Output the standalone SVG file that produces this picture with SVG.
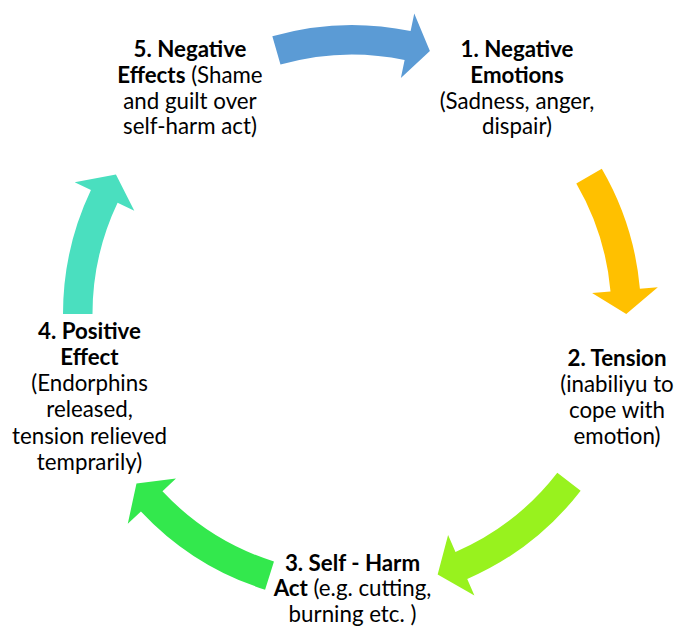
<svg xmlns="http://www.w3.org/2000/svg" width="674" height="626" viewBox="0 0 674 626">
<style>
text{font-family:Lato,"Liberation Sans",sans-serif;font-size:22.3px;fill:#000;text-anchor:middle}
.b{font-weight:bold}
</style>
<rect width="674" height="626" fill="#fff"/>
<g id="connectors">
<path id="a5to1" fill="#5B9BD5" d="M272.34,36.20 A289,289 0 0 1 410.61,31.00 L414.26,13.38 L429.89,51.04 L400.87,78.01 L404.62,59.89 A259.5,259.5 0 0 0 280.47,64.55 Z"/>
<path id="a1to2" fill="#FFC000" d="M601.79,168.63 A289,289 0 0 1 639.90,288.81 L657.83,287.24 L626.25,314 L592.08,292.99 L610.51,291.38 A259.5,259.5 0 0 0 576.29,183.47 Z"/>
<path id="a2to3" fill="#98F21E" d="M580.66,490.73 A289,289 0 0 1 467.24,579.03 L474.42,595.54 L437.66,574.53 L448.10,535.01 L455.48,551.98 A259.5,259.5 0 0 0 557.32,472.69 Z"/>
<path id="a3to4" fill="#33E84D" d="M265.09,589.63 A289,289 0 0 1 140.93,511.40 L127.78,523.70 L136.48,483.60 L175.98,478.62 L162.47,491.25 A259.5,259.5 0 0 0 273.97,561.49 Z"/>
<path id="a4to5" fill="#4ADFBF" d="M63,314 A289,289 0 0 1 90.93,190.04 L74.67,182.32 L115.94,174.40 L134.30,210.63 L117.58,202.69 A259.5,259.5 0 0 0 92.5,314 Z"/>
</g>
<g id="node1">
<text x="517" y="57"><tspan class="b">1. Negative</tspan></text>
<text x="517" y="82.5"><tspan class="b">Emotions</tspan></text>
<text x="517" y="108.5">(Sadness, anger,</text>
<text x="517" y="134">dispair)</text>
</g>
<g id="node2">
<text x="617" y="366"><tspan class="b">2. Tension</tspan></text>
<text x="617" y="392">(inabiliyu to</text>
<text x="617" y="418">cope with</text>
<text x="617" y="444">emotion)</text>
</g>
<g id="node3">
<text x="352.5" y="570.5"><tspan class="b">3. Self - Harm</tspan></text>
<text x="352.5" y="596"><tspan class="b">Act</tspan> (e.g. cutting,</text>
<text x="352.5" y="621.7">burning etc. )</text>
</g>
<g id="node4">
<text x="89.5" y="338.5"><tspan class="b">4. Positive</tspan></text>
<text x="89.5" y="364.8"><tspan class="b">Effect</tspan></text>
<text x="89.5" y="391.1">(Endorphins</text>
<text x="89.5" y="417.4">released,</text>
<text x="89.5" y="443.7">tension relieved</text>
<text x="89.5" y="470">temprarily)</text>
</g>
<g id="node5">
<text x="190" y="57"><tspan class="b">5. Negative</tspan></text>
<text x="190" y="83"><tspan class="b">Effects</tspan> (Shame</text>
<text x="190" y="108.5">and guilt over</text>
<text x="190" y="134">self-harm act)</text>
</g>
</svg>
